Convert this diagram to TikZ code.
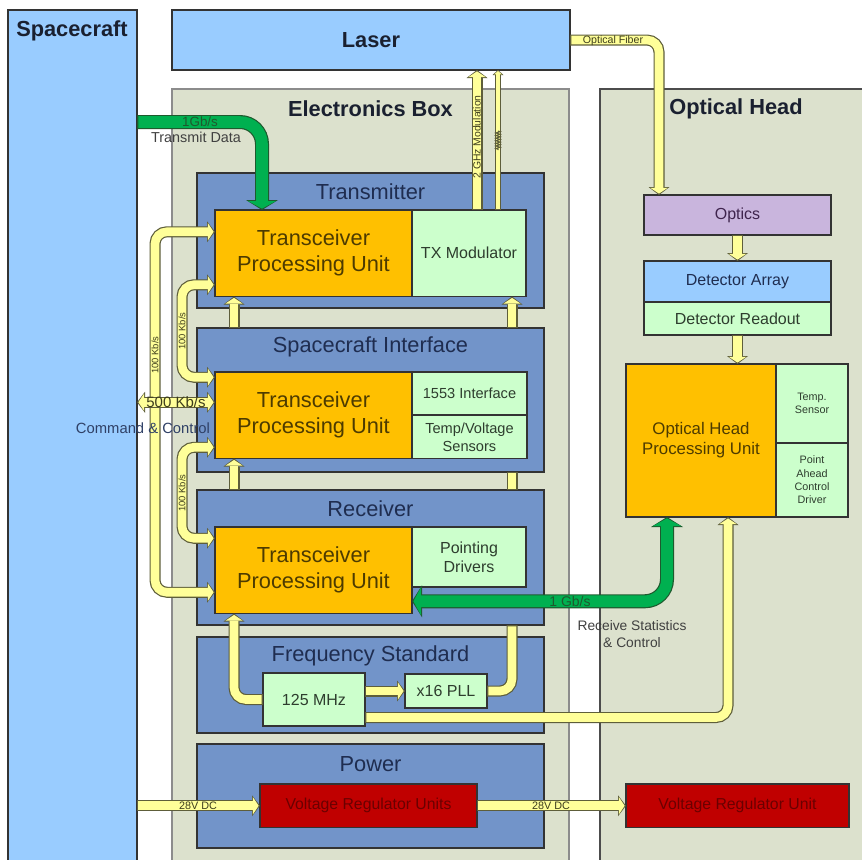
\documentclass[tikz,border=0pt]{standalone}
\usepackage{fontspec}
\setmainfont{Liberation Sans}
\usetikzlibrary{arrows.meta,positioning,decorations.pathmorphing}

\definecolor{skyblue}{HTML}{99CCFF}
\definecolor{boxgray}{HTML}{DCE1CD}
\definecolor{unitblue}{HTML}{7294C9}
\definecolor{tpugold}{HTML}{FFC000}
\definecolor{mint}{HTML}{CCFFCC}
\definecolor{lilac}{HTML}{C9B5DD}
\definecolor{regred}{HTML}{C00000}
\definecolor{regtext}{HTML}{6A0000}
\definecolor{pipefill}{HTML}{FFFF99}
\definecolor{pipeline}{HTML}{5E5E3A}
\definecolor{busgreen}{HTML}{00B050}
\definecolor{busline}{HTML}{1E5A2E}
\definecolor{titletext}{HTML}{1A2030}
\definecolor{navy}{HTML}{1F2D50}
\definecolor{tputext}{HTML}{4D3B00}
\definecolor{minttext}{HTML}{2E3D2E}
\definecolor{lbltext}{HTML}{3D3D1C}
\definecolor{cmdtext}{HTML}{2F4066}

\newcommand\fsz[2]{\fontsize{#1}{#2}\selectfont}
\newcommand\flow[3][]{\draw[#2o,#1]#3;\draw[#2i,#1]#3;}

\begin{document}
\begin{tikzpicture}[x=0.5pt, y=-0.5pt, every node/.style={outer sep=0pt},
    frame/.style={draw=black!80, line width=0.8pt, anchor=north west, inner sep=1pt, align=center},
    unit/.style={frame, fill=unitblue, minimum width=173.5pt},
    tpu/.style={frame, fill=tpugold, text=tputext, font=\fsz{10.9}{13}, minimum width=98.5pt, minimum height=43.25pt},
    sub/.style={frame, fill=mint, text=minttext, font=\fsz{8}{9.6}},
    reg/.style={frame, fill=regred, text=regtext, font=\fsz{7.9}{9.5}, minimum height=21.75pt},
    title/.style={font=\bfseries\fsz{10.9}{13}, text=titletext},
    hdr/.style={font=\fsz{10.9}{13}, text=navy},
    lbl/.style={font=\fsz{5.3}{6.4}, text=lbltext, inner sep=0pt},
    pipeo/.style={draw=pipeline, line width=5.5pt, rounded corners=6pt, >={Triangle[width=10.5pt,length=4pt,line width=0pt]}},
    pipei/.style={draw=pipefill, line width=4.3pt, rounded corners=6pt, shorten >=0.7pt, shorten <=0.7pt, >={Triangle[width=8.7pt,length=2.9pt,line width=0pt]}},
    buso/.style={draw=busline, line width=7pt, rounded corners=11pt, >={Triangle[width=16pt,length=5pt,line width=0pt]}},
    busi/.style={draw=busgreen, line width=5.8pt, rounded corners=11pt, shorten >=0.7pt, shorten <=0.7pt, >={Triangle[width=14pt,length=3.8pt,line width=0pt]}},
    wireo/.style={draw=pipeline, line width=3pt, >={Triangle[width=5.5pt,length=2.5pt,line width=0pt]}},
    wirei/.style={draw=pipefill, line width=1.9pt, shorten >=0.5pt, shorten <=0.5pt, >={Triangle[width=4pt,length=1.7pt,line width=0pt]}}]
  \useasboundingbox (0,0) rectangle (862,859);
  \clip (0,0) rectangle (862,859);

  % enclosures
  \node[frame, fill=skyblue, minimum width=64.5pt, minimum height=435pt] (sc) at (8,10) {};
  \node[title] (scT) at (72,31) {Spacecraft};
  \node[frame, fill=skyblue, title, minimum width=199pt, minimum height=30pt] (laser) at (172,10) {Laser};
  \node[frame, draw=black!45, fill=boxgray, minimum width=198.5pt, minimum height=400pt] (ebox) at (172,89) {};
  \node[title] (eboxT) at ([yshift=-10pt]ebox.north) {Electronics Box};
  \node[frame, draw=black!70, fill=boxgray, minimum width=136pt, minimum height=400pt] (ohead) at (600,89) {};
  \node[title] (oheadT) at ([yshift=-10pt]ohead.north) {Optical Head};

  % electronics box units
  \node[unit, minimum height=67.5pt] (tx) at (197,173) {};
  \node[unit, minimum height=72pt] (sci) at (197,328) {};
  \node[unit, minimum height=67.5pt] (rx) at (197,490) {};
  \node[unit, minimum height=48pt] (fs) at (197,637) {};
  \node[unit, minimum height=52pt] (pw) at (197,744) {};
  \node[hdr] (txT) at ([yshift=-9.5pt]tx.north) {Transmitter};
  \node[hdr] (sciT) at ([yshift=-9.5pt]sci.north) {Spacecraft Interface};
  \node[hdr] (rxT) at ([yshift=-9.5pt]rx.north) {Receiver};
  \node[hdr] (fsT) at ([yshift=-9.5pt]fs.north) {Frequency Standard};
  \node[hdr] (pwT) at ([yshift=-10pt]pw.north) {Power};

  \node[tpu] (tpuA) at (215,210) {Transceiver\\Processing Unit};
  \node[tpu] (tpuB) at (215,372) {Transceiver\\Processing Unit};
  \node[tpu] (tpuC) at (215,527) {Transceiver\\Processing Unit};
  \node[sub, right=0pt of tpuA, minimum width=57pt, minimum height=43.25pt] (txmod) {TX Modulator};
  \node[sub, font=\fsz{7.3}{9}, minimum width=57.5pt, minimum height=21.6pt] (ifc) at (tpuB.north east) {1553 Interface};
  \node[sub, font=\fsz{7.3}{9}, below=0pt of ifc, minimum width=57.5pt, minimum height=21.65pt] (sens) {Temp/Voltage\\Sensors};
  \node[sub, minimum width=57pt, minimum height=30pt] (point) at (tpuC.north east) {Pointing\\Drivers};
  \node[sub, minimum width=51pt, minimum height=26.5pt] (clk) at (263,673) {125 MHz};
  \node[sub, minimum width=41pt, minimum height=17pt] (pll) at (405,674) {x16 PLL};
  \node[reg, minimum width=108.5pt] (vruA) at (260,784) {Voltage Regulator Units};

  % optical head units
  \node[frame, fill=lilac, text=navy!80!purple, font=\fsz{8}{9.6}, minimum width=93.5pt, minimum height=20pt] (optics) at (644,195) {Optics};
  \node[frame, fill=skyblue, text=navy, font=\fsz{8}{9.6}, minimum width=93.5pt, minimum height=20.5pt] (detarr) at (644,261) {Detector Array};
  \node[sub, below=0pt of detarr, minimum width=93.5pt, minimum height=16.5pt] (detro) {Detector Readout};
  \node[tpu, font=\fsz{8.4}{10}, minimum width=75pt, minimum height=76.5pt] (ohpu) at (626,364) {Optical Head\\Processing Unit};
  \node[sub, font=\fsz{5.4}{6.7}, minimum width=36pt, minimum height=39.5pt] (temp) at (ohpu.north east) {Temp.\\Sensor};
  \node[sub, font=\fsz{5.4}{6.7}, below=0pt of temp, minimum width=36pt, minimum height=37pt] (pad) {Point\\Ahead\\Control\\Driver};
  \node[reg, minimum width=111.5pt] (vruB) at (626,784) {Voltage Regulator Unit};

  % link anchors
  \coordinate (busT) at ([xshift=23.5pt]tpuA.north west);
  \coordinate (busR) at ([xshift=20.5pt]ohpu.south west);
  \coordinate (busL) at ([yshift=-15.5pt]tpuC.east);
  \coordinate (cmd) at ([yshift=6.5pt]tpuB.west);
  \coordinate (lpA) at ([yshift=10.75pt]tpuA.west);
  \coordinate (lpB) at ([yshift=-11pt]tpuC.west);
  \coordinate (lpC) at ([yshift=-15.75pt]tpuA.west);
  \coordinate (lpD) at ([yshift=19pt]tpuB.west);
  \coordinate (lpE) at ([yshift=-16pt]tpuB.west);
  \coordinate (lpF) at ([yshift=16pt]tpuC.west);
  \coordinate (ckL) at ([xshift=9.5pt]tpuC.south west);
  \coordinate (ckR) at ([xshift=-7pt]txmod.south east);
  \coordinate (ckO) at ([xshift=51pt]ohpu.south west);
  \coordinate (modA) at ([xshift=32.5pt]txmod.north west);
  \coordinate (modB) at ([xshift=43pt]txmod.north west);
  \coordinate (fib) at ([xshift=7.5pt]optics.north west);

  % clock distribution
  \flow[->]{pipe}{(clk.west) -| (ckL)}
  \flow[->]{pipe}{(ckL |- rx.north) -- (ckL |- tpuB.south)}
  \flow[->]{pipe}{(ckL |- sci.north) -- (ckL |- tpuA.south)}
  \flow[->]{pipe}{(clk.east |- pll.west) -- (pll.west)}
  \flow{pipe}{(pll.east) -| (ckR |- rx.south)}
  \flow{pipe}{(ckR |- rx.north) -- (ckR |- sci.south)}
  \flow[->]{pipe}{(ckR |- sci.north) -- (ckR)}
  \flow[->]{pipe}{([yshift=-9pt]clk.east) -| (ckO)}

  % command and control loops
  \flow[<->]{pipe}{(lpA) -| ([xshift=-30pt]lpB) -- (lpB)}
  \flow[<->]{pipe}{(lpC) -| ([xshift=-16.5pt]lpD) -- (lpD)}
  \flow[<->]{pipe}{(lpE) -| ([xshift=-16.5pt]lpF) -- (lpF)}
  \flow[<->]{pipe}{(sc.east |- cmd) -- (cmd)}

  % laser and optics
  \flow[->]{pipe}{(modA) -- (modA |- laser.south)}
  \flow[->]{wire}{(modB) -- (modB |- laser.south)}
  \draw[pipeline, line width=0.5pt, decorate, decoration={zigzag, amplitude=1.1pt, segment length=1.3pt}] (modB |- 0,131) -- (modB |- 0,150);
  \flow[->]{pipe}{(laser.east) -| (fib)}
  \flow[->]{pipe}{(optics.south) -- (detarr.north)}
  \flow[->]{pipe}{(detro.south) -- (detro.south |- ohpu.north)}

  % data buses
  \flow[->]{bus}{(sc.east |- 0,122) -| (busT)}
  \flow[<->]{bus}{(busR) |- (busL)}

  % power
  \flow[->]{pipe}{(sc.east |- vruA.west) -- (vruA.west)}
  \flow[->]{pipe}{(vruA.east) -- (vruB.west)}

  % labels
  \node[lbl, font=\fsz{6.7}{8}, text=busline] (txdR) at (200,122) {1Gb/s};
  \node[lbl, font=\fsz{7.2}{8.6}, text=black!75] (txdT) at (196,137) {Transmit Data};
  \node[lbl, font=\fsz{7}{8}, text=busline] (rxdR) at (570,601) {1 Gb/s};
  \node[lbl, font=\fsz{6.9}{8.5}, text=black!75, align=center] (rxdT) at (632,634) {Receive Statistics\\\& Control};
  \node[lbl, font=\fsz{7.5}{9}] (cmdR) at (176,402) {500 Kb/s};
  \node[lbl, font=\fsz{7.4}{9}, text=cmdtext] (cmdT) at (143,428) {Command \& Control};
  \node[lbl] (fibT) at (613,41) {Optical Fiber};
  \node[lbl, font=\fsz{5.2}{6}, rotate=90] (modT) at (477,137) {2 GHz Modulation};
  \node[lbl, font=\fsz{4.7}{5.5}, rotate=90] (kbA) at (155,355) {100 Kb/s};
  \node[lbl, font=\fsz{4.7}{5.5}, rotate=90] (kbB) at (182,331) {100 Kb/s};
  \node[lbl, font=\fsz{4.7}{5.5}, rotate=90] (kbC) at (182,493) {100 Kb/s};
  \node[lbl, font=\fsz{5.4}{6}] (dcA) at (198,806) {28V DC};
  \node[lbl, font=\fsz{5.4}{6}] (dcB) at (551,806) {28V DC};
\end{tikzpicture}
\end{document}
